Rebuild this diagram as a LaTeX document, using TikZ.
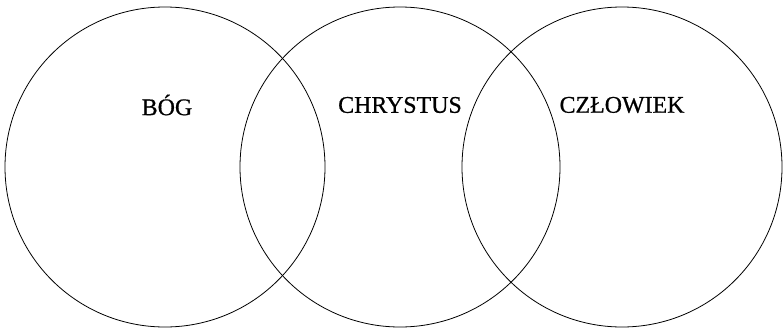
\documentclass[tikz,border=0pt]{standalone}
\usepackage{fontspec}
\setmainfont{Liberation Serif}
\newfontfamily\headfont[FakeBold=0.7]{Liberation Serif}
\usepackage{tikz}
\usetikzlibrary{positioning}

\begin{document}
\begin{tikzpicture}[x=1bp, y=1bp,
    ring/.style={draw, circle, minimum size=320bp, inner sep=0pt, line width=0.8pt},
    heading/.style={font=\headfont\fontsize{24}{28}\selectfont}]
    \useasboundingbox (0,0) rectangle (783,330);
    % Bóg
    \node[ring] (bog) at (165,163) {};
    \node[heading] (bogtxt) at (167,225) {BÓG};
    % Chrystus
    \node[ring] (chrystus) at (400,163) {};
    \node[heading] (chrystustxt) at (400,225) {CHRYSTUS};
    % Człowiek
    \node[ring] (czlowiek) at (622,163) {};
    \node[heading] (czlowiektxt) at (622,225) {CZŁOWIEK};
\end{tikzpicture}
\end{document}
